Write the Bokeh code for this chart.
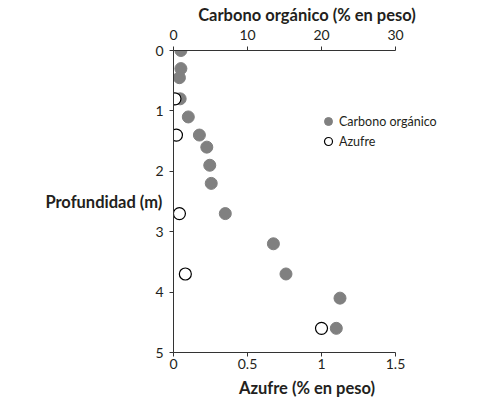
from bokeh.plotting import figure
from bokeh.models import (Range1d, LinearAxis, Legend, LegendItem, Title,
                          FixedTicker, CustomJSTickFormatter)
from bokeh.embed import file_html
from bokeh.resources import INLINE

# Data
carbon_depth = [0.0, 0.3, 0.45, 0.8, 1.1, 1.4, 1.6, 1.9, 2.2, 2.7, 3.2, 3.7, 4.1, 4.6]
carbon_pct = [1.0, 1.0, 0.8, 0.9, 2.0, 3.5, 4.5, 4.9, 5.1, 7.0, 13.5, 15.2, 22.5, 22.0]
sulfur_depth = [0.8, 1.4, 2.7, 3.7, 4.6]
sulfur_pct = [0.01, 0.02, 0.04, 0.08, 1.0]

carbon_ticks = [0, 10, 20, 30]
sulfur_ticks = [0, 0.5, 1, 1.5]
depth_ticks = [0, 1, 2, 3, 4, 5]

FONT = "Lato"
TXT = "#231f20"
TITLE_SIZE = "16.5px"

# axes span 222 px; the frame is widened so the legend fits inside it
AX_W = 222
FRAME_W = 267
c_end = 30 * FRAME_W / AX_W
s_end = 1.5 * FRAME_W / AX_W

p = figure(frame_width=FRAME_W, frame_height=302,
           min_border_left=173, min_border_right=20,
           min_border_top=50, min_border_bottom=44,
           x_range=Range1d(0, c_end), y_range=Range1d(5, 0),
           x_axis_location="above",
           output_backend="svg", toolbar_location=None)
p.extra_x_ranges = {"s": Range1d(0, s_end)}
p.outline_line_color = None
p.xgrid.visible = False
p.ygrid.visible = False

fmt = CustomJSTickFormatter(code="return tick.toString();")

def style(ax, ticks):
    ax.ticker = FixedTicker(ticks=ticks)
    ax.formatter = fmt
    ax.minor_tick_line_color = None
    ax.axis_line_color = "#333333"
    ax.major_tick_line_color = "#333333"
    ax.major_tick_in = 0
    ax.major_tick_out = 4
    ax.major_label_text_font = FONT
    ax.major_label_text_font_size = "14px"
    ax.major_label_text_color = TXT
    ax.axis_label_text_font = FONT
    ax.axis_label_text_font_style = "bold"
    ax.axis_label_text_font_size = TITLE_SIZE
    ax.axis_label_text_color = TXT

top = p.xaxis[0]
style(top, carbon_ticks)
top.bounds = (0, 30)
top.major_label_standoff = 7

left = p.yaxis[0]
style(left, depth_ticks)
left.major_label_standoff = 6
left.axis_label = "Profundidad (m)"
left.axis_label_orientation = "horizontal"
left.axis_label_standoff = -10

bottom = LinearAxis(x_range_name="s")
style(bottom, sulfur_ticks)
bottom.bounds = (0, 1.5)
bottom.major_label_standoff = 2
p.add_layout(bottom, "below")

title_kw = dict(text_font=FONT, text_font_style="bold", text_font_size=TITLE_SIZE,
                text_color=TXT, align="center", text_line_height=0.8)
frame_mid = 173 + FRAME_W / 2
p.add_layout(Title(text="Carbono orgánico (% en peso)",
                   offset=283.5 - frame_mid, standoff=4, **title_kw), "above")
p.add_layout(Title(text="Azufre (% en peso)",
                   offset=300 - frame_mid, standoff=8, **title_kw), "below")

c = p.scatter(carbon_pct, carbon_depth, size=12, fill_color="#808080",
              line_color="#808080")
s = p.scatter(sulfur_pct, sulfur_depth, x_range_name="s", size=12,
              fill_color="white", line_color="black", line_width=1.2)

legend = Legend(items=[LegendItem(label="Carbono orgánico", renderers=[c]),
                       LegendItem(label="Azufre", renderers=[s])],
                location=(145, 201), padding=0, margin=0, spacing=0,
                label_height=19, glyph_height=20, glyph_width=20,
                label_standoff=1, border_line_color=None,
                background_fill_alpha=0,
                label_text_font=FONT, label_text_font_size="12.5px",
                label_text_color=TXT)
p.add_layout(legend, "center")

open("out.html", "w").write(file_html(p, INLINE))
